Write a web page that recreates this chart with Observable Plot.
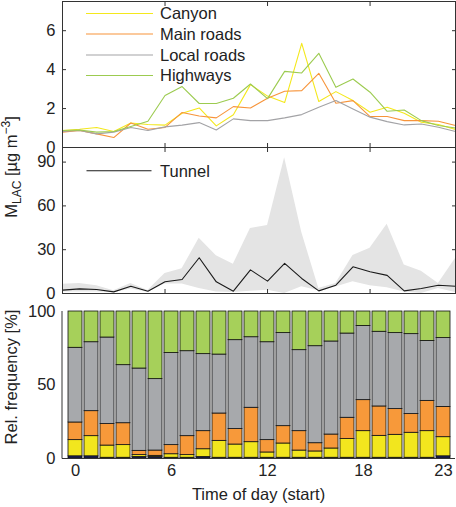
<!DOCTYPE html>
<html><head><meta charset="utf-8">
<script src="https://cdn.jsdelivr.net/npm/d3@7"></script>
<script src="https://cdn.jsdelivr.net/npm/@observablehq/plot@0.6"></script>
<style>
html,body{margin:0;padding:0;background:#fff;}
#chart{position:relative;width:456px;height:507px;overflow:hidden;font-family:"Liberation Sans",Arial,sans-serif;color:#222;}
#chart > svg{position:absolute;left:0;}
</style></head><body><div id="chart"></div>
<script>
// ---- data ----
const hours = [0,1,2,3,4,5,6,7,8,9,10,11,12,13,14,15,16,17,18,19,20,21,22,23];
const seriesNames = ["Canyon","Main roads","Local roads","Highways"];
const seriesColors = ["#f4e81c","#f7943a","#a3a3a6","#9ccb50"];
const canyon     = [0.87,0.94,1.03,0.82,1.26,1.18,1.15,1.76,2.03,1.11,1.68,3.23,2.64,2.31,5.35,2.36,2.87,2.41,1.81,2.07,1.76,1.30,1.18,0.92];
const mainRoads  = [0.79,0.88,0.70,0.51,1.26,0.94,1.03,1.80,1.62,1.52,2.10,2.03,2.53,2.89,2.92,3.81,2.27,2.41,1.59,1.59,1.38,1.38,1.35,1.13];
const localRoads = [0.82,0.87,0.70,0.79,1.03,0.87,1.06,1.15,1.28,0.90,1.47,1.38,1.38,1.52,1.69,2.07,2.41,1.98,1.56,1.33,1.16,1.21,1.04,0.82];
const highways   = [0.87,0.90,0.79,0.82,1.08,1.35,2.67,3.13,2.26,2.26,2.53,3.26,2.51,3.91,3.83,4.84,3.09,3.52,2.84,1.86,1.93,1.38,1.13,1.00];

const tunnel     = [2.3,3.2,2.7,1.1,5.0,1.6,8.0,9.6,24.5,8.0,1.6,16.2,8.5,20.6,10.3,1.8,5.7,18.3,14.9,12.4,1.8,3.4,5.7,5.0];
const tunnelHigh = [6.4,6.9,5.3,1.8,6.9,2.0,13.7,17.0,37.8,25.9,20.0,44.6,46.5,93.0,42.0,3.4,6.9,26.0,31.0,47.4,19.5,15.3,6.9,24.0];
const tunnelLow  = [1.1,1.1,1.1,0.5,3.0,0.8,6.5,6.5,3.4,1.1,0.7,1.6,2.3,0.0,4.6,1.8,4.5,8.0,5.3,3.9,1.1,0.0,3.4,0.7];

const catOrder  = ["Tunnel","Canyon","Main roads","Local roads","Highways"];
const catColors = ["#1b2060","#f2e61e","#f7993a","#a7a9ac","#a6d05a"];
const shareTunnel   = [1.5,1.5,0.5,0.5,1,1,0.5,0.5,1,0.5,0.5,0.5,0.5,0.5,0.5,0.5,0.5,0.5,0.5,0.5,0.5,0.5,0.5,1.5];
const shareCanyon   = [11,13.7,8.3,8.6,1.3,0.8,2.4,1.8,5.3,11.5,9,10.6,3.6,9.7,4.9,4.3,6.3,12.7,18.1,14.9,15.6,17,18.1,13];
const shareMain     = [12,17,14.6,14.9,2.9,3.6,6.2,12.9,12.3,18.6,10.5,23.4,8.4,11.8,13.2,5.6,9.5,14.5,21.1,20,17.5,12.7,20.6,20.6];
const shareLocal    = [50.8,46.9,58.9,39.5,56,48.6,62.6,57.8,52.4,40.1,60.5,48,66.6,63.3,55.1,66,63.3,57.3,50.5,50.8,51.7,54.4,40.8,46.8];
const shareHighways = [24.7,20.9,17.7,36.5,38.8,46,28.3,27,29,29.3,19.5,17.5,20.9,14.7,26.3,23.6,20.4,15,9.8,13.8,14.7,15.4,20,18.1];

const yTicksTop = [0,2,4,6];
const yTicksMid = [0,30,60,90];
const yTicksBot = [0,50,100];
const xTicks = [6,12,18];
const xLabels = [0,6,12,18,23];

// ---- build ----
const FONT = '"Liberation Sans", Arial, sans-serif';
const style = {fontFamily: FONT, fontSize: "16.5px", color: "#222", background: "transparent", overflow: "visible"};
const AX = "#333";

const lineData = [];
hours.forEach((h, i) => {
  lineData.push({h, v: canyon[i], s: "Canyon"});
  lineData.push({h, v: mainRoads[i], s: "Main roads"});
  lineData.push({h, v: localRoads[i], s: "Local roads"});
  lineData.push({h, v: highways[i], s: "Highways"});
});
const tunnelData = hours.map((h, i) => ({h, v: tunnel[i], lo: tunnelLow[i], hi: tunnelHigh[i]}));
const shares = {"Tunnel": shareTunnel, "Canyon": shareCanyon, "Main roads": shareMain, "Local roads": shareLocal, "Highways": shareHighways};
const barData = [];
hours.forEach((h, i) => catOrder.forEach(c => barData.push({h, cat: c, v: shares[c][i]})));

function boxAxes(yt) {
  return [
    Plot.frame({stroke: AX}),
    Plot.axisY(yt, {anchor: "left", tickSize: -4, tickPadding: 11, stroke: AX}),
    Plot.axisY(yt, {anchor: "right", tickSize: -4, tickFormat: () => "", stroke: AX}),
    Plot.axisX(xTicks, {anchor: "bottom", tickSize: -4, tickFormat: () => "", stroke: AX}),
    Plot.axisX(xTicks, {anchor: "top", tickSize: -4, tickFormat: () => "", stroke: AX})
  ];
}

const p1 = Plot.plot({
  width: 456, height: 148, marginLeft: 62, marginRight: 1, marginTop: 1, marginBottom: 1,
  style,
  x: {domain: [0, 23], label: null},
  y: {domain: [0, 7.5], label: null},
  color: {domain: seriesNames, range: seriesColors},
  marks: [
    Plot.line(lineData, {x: "h", y: "v", z: "s", stroke: "s", strokeWidth: 1.1}),
    ...boxAxes(yTicksTop)
  ]
});
p1.style.top = "0px";

const p2 = Plot.plot({
  width: 456, height: 148, marginLeft: 62, marginRight: 1, marginTop: 1, marginBottom: 1,
  style,
  x: {domain: [0, 23], label: null},
  y: {domain: [0, 100], label: null},
  marks: [
    Plot.areaY(tunnelData, {x: "h", y1: "lo", y2: "hi", fill: "#e4e4e4"}),
    Plot.line(tunnelData, {x: "h", y: "v", stroke: "#1a1a1a", strokeWidth: 1.1}),
    ...boxAxes(yTicksMid)
  ]
});
p2.style.top = "146px";

const p3 = Plot.plot({
  width: 456, height: 196, marginLeft: 62, marginRight: 1, marginTop: 1, marginBottom: 48,
  style,
  x: {type: "band", domain: hours, padding: 0.14, label: null},
  y: {domain: [0, 100], label: null},
  color: {domain: catOrder, range: catColors},
  marks: [
    Plot.barY(barData, {x: "h", y: "v", fill: "cat", order: catOrder, stroke: "#111", strokeWidth: 0.8}),
    Plot.ruleY([0], {stroke: AX}),
    Plot.axisY(yTicksBot, {anchor: "left", tickSize: 0, tickPadding: 7}),
    Plot.axisX(xLabels, {anchor: "bottom", tickSize: 0, tickPadding: 6})
  ]
});
p3.style.top = "310px";

const chart = document.getElementById("chart");
chart.append(p1, p2, p3);

// ---- overlay: legends and axis titles ----
const ns = "http://www.w3.org/2000/svg";
const ov = document.createElementNS(ns, "svg");
ov.setAttribute("width", 456); ov.setAttribute("height", 507);
ov.style.top = "0px";
ov.style.fontFamily = FONT;
ov.style.fontSize = "16.5px";
let html = "";
const rows = [13.5, 34, 55, 75.5];
seriesNames.forEach((s, i) => {
  html += `<line x1="86" x2="153" y1="${rows[i]}" y2="${rows[i]}" stroke="${seriesColors[i]}" stroke-width="1.1"/>`;
  html += `<text x="160" y="${rows[i]}" dy="0.36em" fill="#222">${s}</text>`;
});
html += `<line x1="86.5" x2="151.5" y1="170.7" y2="170.7" stroke="#1a1a1a" stroke-width="1.1"/>`;
html += `<text x="160" y="170.7" dy="0.36em" fill="#222">Tunnel</text>`;
html += `<line x1="62" x2="62" y1="311" y2="458.5" stroke="${AX}" stroke-width="1"/>`;
html += `<text transform="translate(17,167) rotate(-90)" text-anchor="middle" fill="#222">M<tspan dy="4" font-size="12">LAC</tspan><tspan dy="-4"> [µg m</tspan><tspan dy="-7" font-size="12">−3</tspan><tspan dy="7">]</tspan></text>`;
html += `<text transform="translate(17,377) rotate(-90)" text-anchor="middle" fill="#222">Rel. frequency [%]</text>`;
html += `<text x="258.5" y="500" text-anchor="middle" fill="#222">Time of day (start)</text>`;
ov.innerHTML = html;
chart.append(ov);
</script></body></html>
